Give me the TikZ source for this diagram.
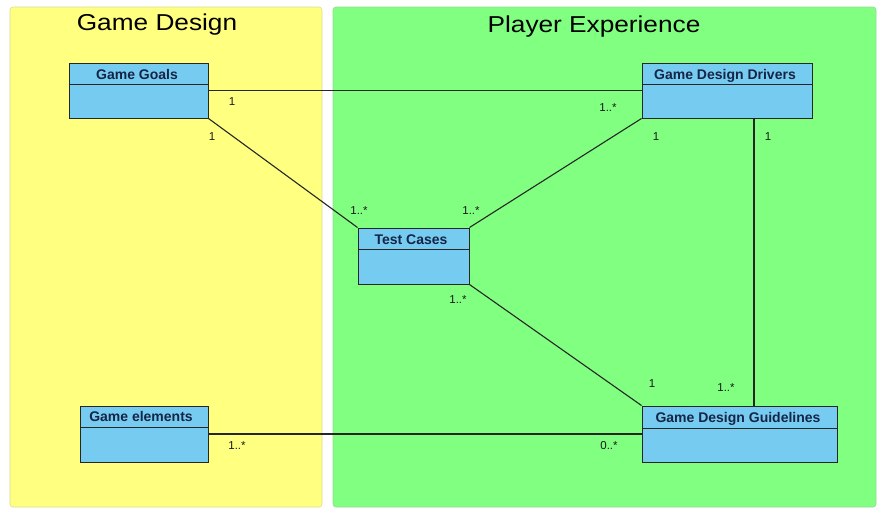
\documentclass[tikz,border=0pt]{standalone}
\usepackage{fontspec}
\setmainfont{Liberation Sans}
\usetikzlibrary{calc}
\definecolor{panelyellow}{RGB}{255,255,128}
\definecolor{panelgreen}{RGB}{128,255,128}
\definecolor{classfill}{RGB}{118,204,240}
\definecolor{classtext}{RGB}{22,36,70}
\tikzset{
  panel/.style={rounded corners=3pt, line width=0.6pt},
  classbox/.style={draw=black!85, fill=classfill, line width=1pt, inner sep=0pt},
  classname/.style={font=\fontsize{14}{16}\selectfont\bfseries, text=classtext, inner sep=0pt, anchor=base},
  divider/.style={draw=black!85, line width=1pt},
  assoc/.style={draw=black!85, line width=1.1pt},
  mult/.style={font=\fontsize{11.5}{13}\selectfont, text=black!90, inner sep=0pt},
  title/.style={font=\fontsize{23}{26}\selectfont, inner sep=0pt}
}
\newcommand{\wide}[1]{\scalebox{1.14}[1]{#1}}
\begin{document}
\begin{tikzpicture}[x=1pt,y=-1pt]
\useasboundingbox[fill=white] (0,0) rectangle (878,509);

% swimlane panels
\fill[panel, fill=panelyellow] (10,7) rectangle (322,507);
\fill[panel, fill=panelgreen] (333,7) rectangle (876,507);
\draw[panel, draw=panelyellow!80!black!70] (10,7) rectangle (322,507);
\draw[panel, draw=panelgreen!80!black!70] (333,7) rectangle (876,507);

\node[title] (ttlgd) at (157,25) {\wide{Game Design}};
\node[title] (ttlpe) at (594,27) {\wide{Player Experience}};

% classes
\node[classbox, minimum width=139, minimum height=55] (goals) at (138.5,90.5) {};
\draw[divider] (69,84) -- (208,84);
\node[classname] (goalsname) at (137,79) {Game Goals};

\node[classbox, minimum width=170, minimum height=55] (drivers) at (727,90.5) {};
\draw[divider] (642,84) -- (812,84);
\node[classname] (driversname) at (725,79) {Game Design Drivers};

\node[classbox, minimum width=111, minimum height=56] (tc) at (413.5,256) {};
\draw[divider] (358,249) -- (469,249);
\node[classname] (tcname) at (411,244) {Test Cases};

\node[classbox, minimum width=195, minimum height=56] (guide) at (739.5,434) {};
\draw[divider] (642,428) -- (837,428);
\node[classname] (guidename) at (738,422) {Game Design Guidelines};

\node[classbox, minimum width=128, minimum height=56] (elems) at (144,434) {};
\draw[divider] (80,427) -- (208,427);
\node[classname] (elemsname) at (141,421) {Game elements};

% associations
\draw[assoc] (goals.east) -- (drivers.west);
\draw[assoc] (goals.south east) -- (tc.north west);
\draw[assoc] (drivers.south west) -- (tc.north east);
\draw[assoc] ([xshift=27pt]drivers.south) -- ([xshift=27pt]drivers.south |- guide.north);
\draw[assoc] (tc.south east) -- (guide.north west);
\draw[assoc] (elems.east) -- (guide.west);

% multiplicities
\node[mult] (m1) at (232,102) {1};
\node[mult] (m2) at (608,108) {1..*};
\node[mult] (m3) at (212,137) {1};
\node[mult] (m4) at (359,211) {1..*};
\node[mult] (m5) at (656,137) {1};
\node[mult] (m6) at (471,211) {1..*};
\node[mult] (m7) at (768,137) {1};
\node[mult] (m8) at (726,388) {1..*};
\node[mult] (m9) at (458,300) {1..*};
\node[mult] (m10) at (652,384) {1};
\node[mult] (m11) at (237,446) {1..*};
\node[mult] (m12) at (609,446) {0..*};
\end{tikzpicture}
\end{document}
